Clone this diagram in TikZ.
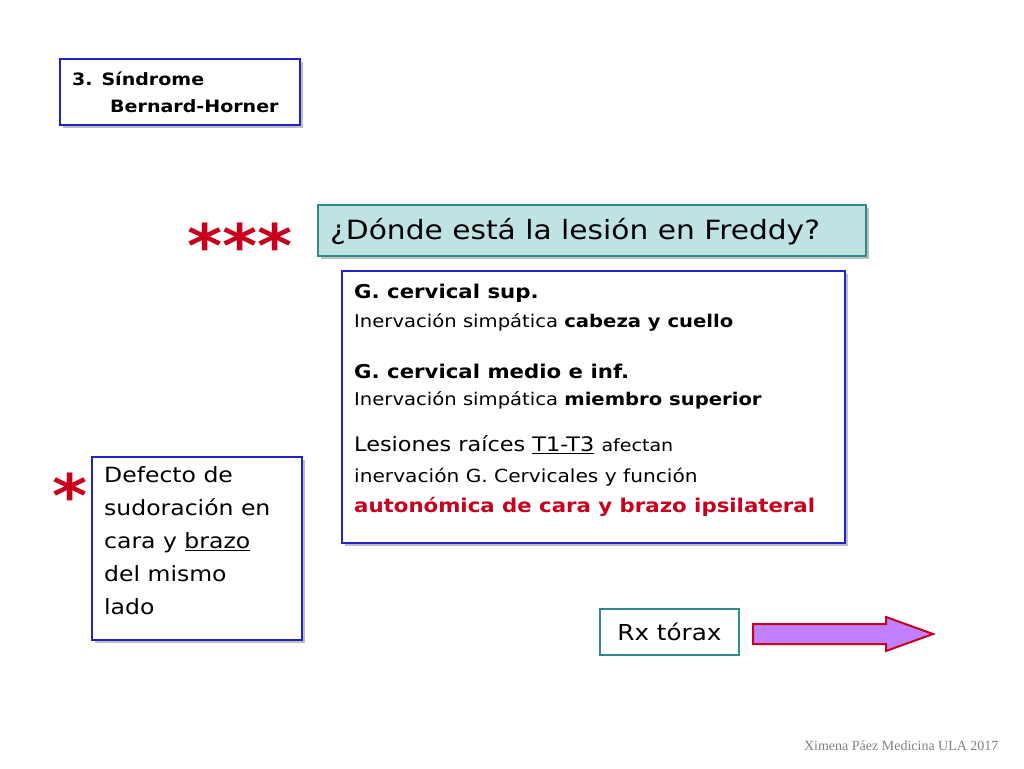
\documentclass[tikz,border=0pt]{standalone}
\usepackage{fontspec}
\setmainfont[FakeStretch=1.12]{DejaVu Sans}
\newfontfamily\footfont{Liberation Serif}
\usetikzlibrary{shadows}
\definecolor{bbl}{HTML}{2222C8}
\definecolor{teal2}{HTML}{2E8B8B}
\definecolor{tfill}{HTML}{BFE3E3}
\definecolor{rred}{HTML}{C8001E}
\definecolor{viol}{HTML}{C080FF}
\tikzset{
  bbox/.style={draw=bbl,line width=2pt,fill=white,drop shadow={shadow xshift=3pt,shadow yshift=-3pt,fill=gray!50,opacity=1}},
  tbox/.style={draw=teal2,line width=2pt,fill=tfill,drop shadow={shadow xshift=3pt,shadow yshift=-3pt,fill=gray!50,opacity=1}},
  txt/.style={anchor=west,inner sep=0pt},
}
\begin{document}
\begin{tikzpicture}[x=1pt,y=-1pt]
\useasboundingbox (0,0) rectangle (1024,768);
% box 1
\draw[bbox] (60,59) rectangle (300,125);
\node[txt,font=\fontsize{17}{18}\selectfont\bfseries] (s1) at (72,79) {3. Síndrome};
\node[txt,font=\fontsize{17}{18}\selectfont\bfseries] (s2) at (110,106) {Bernard-Horner};
% stars
\node[text=rred,font=\fontsize{60}{60}\selectfont\bfseries] (st3) at (240,245) {***};
\node[text=rred,font=\fontsize{60}{60}\selectfont\bfseries] (st1) at (70,495) {*};
% question
\draw[tbox] (318,205) rectangle (866,256);
\node[txt,font=\fontsize{26.5}{30}\selectfont] (q) at (330,232) {¿Dónde está la lesión en Freddy?};
% big box
\draw[bbox] (342,271) rectangle (845,543);
\node[txt,font=\fontsize{19}{20}\selectfont\bfseries] (g1) at (354,293) {G. cervical sup.};
\node[txt,font=\fontsize{17.5}{18}\selectfont] (g1b) at (354,322) {Inervación simpática \textbf{cabeza y cuello}};
\node[txt,font=\fontsize{19}{20}\selectfont\bfseries] (g2) at (354,371) {G. cervical medio e inf.};
\node[txt,font=\fontsize{17.5}{18}\selectfont] (g2b) at (354,400) {Inervación simpática \textbf{miembro superior}};
\node[txt,font=\fontsize{20}{20}\selectfont] (l1) at (354,445) {Lesiones raíces \underline{T1-T3} {\fontsize{17}{18}\selectfont afectan}};
\node[txt,font=\fontsize{18}{18}\selectfont] (l2) at (354,477) {inervación G. Cervicales y función};
\node[txt,font=\fontsize{19}{20}\selectfont\bfseries,text=rred] (l3) at (354,507) {autonómica de cara y brazo ipsilateral};
% left box
\draw[bbox] (92,457) rectangle (302,640);
\node[anchor=north west,inner sep=0pt,align=left,font=\fontsize{21}{33}\selectfont] (d) at (104,466) {Defecto de\\sudoración en\\cara y \underline{brazo}\\del mismo\\lado};
% Rx
\draw[draw=teal2,line width=2pt,fill=white] (600,609) rectangle (739,655);
\node[font=\fontsize{22}{24}\selectfont] (rx) at (669.5,632) {Rx tórax};
% arrow
\draw[draw=rred,line width=2pt,fill=viol] (753,624) -- (886,624) -- (886,617) -- (933,634) -- (886,651) -- (886,644) -- (753,644) -- cycle;
% footer
\node[anchor=east,text=gray,font=\footfont\fontsize{14}{16}\selectfont] (f) at (1002,746) {Ximena Páez Medicina ULA 2017};
\end{tikzpicture}
\end{document}
